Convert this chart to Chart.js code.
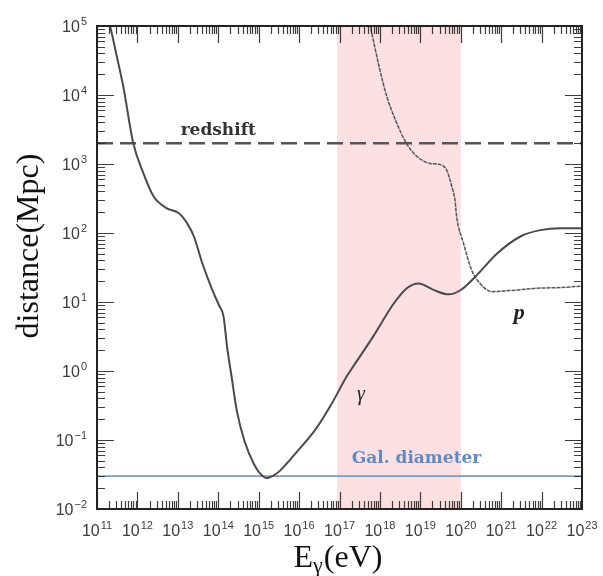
<!DOCTYPE html>
<html><head><meta charset="utf-8">
<script src="https://cdn.jsdelivr.net/npm/chart.js@4/dist/chart.umd.min.js"></script>
<style>html,body{margin:0;padding:0;background:#fff;} canvas{display:block;}</style>
</head><body>
<canvas id="c" width="603" height="576" style="width:603px;height:576px"></canvas>
<script>
// ---- data ----
const xTickValues = [1e11,1e12,1e13,1e14,1e15,1e16,1e17,1e18,1e19,1e20,1e21,1e22,1e23];
const yTickValues = [1e-2,1e-1,1e0,1e1,1e2,1e3,1e4,1e5];

const gammaEnergy = [1.9e11,2.1e11,3.1e11,4.5e11,7.9e11,1.4e12,2.5e12,5.2e12,1.05e13,1.7e13,2.5e13,4.0e13,7.1e13,1.05e14,1.35e14,1.66e14,2.1e14,2.9e14,4.5e14,7.9e14,1.12e15,1.6e15,2.2e15,3.4e15,8.9e15,2.5e16,6.3e16,1.5e17,2.2e17,6.9e17,2.2e18,4.7e18,9.1e18,2.1e19,5.0e19,9.8e19,2.5e20,7.8e20,3.0e21,9.3e21,2.9e22,1e23];
const gammaDistance = [1.2e5,1e5,3.6e4,1.3e4,2.0e3,740,340,230,195,138,89,37,15,8.9,6.2,2.2,0.89,0.26,0.095,0.043,0.032,0.028,0.030,0.036,0.068,0.14,0.33,0.83,1.17,3.2,9.5,16,18.6,15,12.9,14.8,24.5,50,89,110,117,117];

const protonEnergy = [5.25e17,5.75e17,1e18,1.48e18,2.4e18,4.5e18,8.1e18,1.74e19,3.1e19,4.5e19,6.0e19,7.2e19,7.9e19,1.17e20,1.86e20,3.0e20,5.9e20,1.38e21,7.6e21,2.9e22,1e23];
const protonDistance = [1.26e5,1e5,2.3e4,9.5e3,4.4e3,2.0e3,1.3e3,1.02e3,980,810,470,300,174,71,29,18.6,14.1,14.5,15.8,16.2,17];

const redshiftDistance = 2000;
const galDiameterDistance = 0.03;
const bandEnergy = [8.7e16, 1e20];
const xRange = [1e11, 1e23];
const yRange = [1e-2, 1e5];

const annotationTexts = ['redshift', 'Gal. diameter', 'γ', 'p'];
const annotationAnchors = [[1.0e14, redshiftDistance], [2.0e17, galDiameterDistance], [3.4e17, 0.45], [2.8e21, 6.9]];

// ---- helpers ----
function expOf(v){ return String(Math.round(Math.log10(v))).replace('-', '−'); }
function pts(xs, ys){ return xs.map((x,i) => ({x:x, y:ys[i]})); }

const BASE_FONT = '16px "Liberation Sans"';
const EXP_FONT = '11px "Liberation Sans"';

function drawPow(ctx, v, anchorX, baseY, align){
  ctx.font = BASE_FONT;
  const w1 = ctx.measureText('10').width;
  const e = expOf(v);
  ctx.font = EXP_FONT;
  const w2 = ctx.measureText(e).width;
  const total = w1 + 1 + w2;
  let sx = align === 'right' ? anchorX - total : anchorX - total / 2;
  ctx.textAlign = 'left';
  ctx.textBaseline = 'alphabetic';
  ctx.font = BASE_FONT;
  ctx.fillText('10', sx, baseY);
  ctx.font = EXP_FONT;
  ctx.fillText(e, sx + w1 + 1, baseY - 7);
}

const bandPlugin = {
  id:'band',
  beforeDatasetsDraw(chart){
    const {ctx, chartArea:a, scales:{x}} = chart;
    const x0 = x.getPixelForValue(bandEnergy[0]);
    const x1 = x.getPixelForValue(bandEnergy[1]);
    ctx.save();
    ctx.fillStyle = '#fde0e2';
    ctx.fillRect(x0, a.top, x1 - x0, a.bottom - a.top);
    ctx.restore();
  }
};

const framePlugin = {
  id:'frame',
  afterDatasetsDraw(chart){
    const {ctx, chartArea:a, scales:{x,y}} = chart;
    ctx.save();
    ctx.strokeStyle = 'rgba(40,40,40,0.9)';
    ctx.lineWidth = 1.2;
    ctx.beginPath();
    for (let i = 0; i < xTickValues.length - 1; i++){
      for (let m = 1; m < 10; m++){
        const px = Math.round(x.getPixelForValue(m * xTickValues[i])) + 0.5;
        const L = m === 1 ? 17 : 8;
        ctx.moveTo(px, a.bottom); ctx.lineTo(px, a.bottom - L);
        ctx.moveTo(px, a.top); ctx.lineTo(px, a.top + L);
      }
    }
    for (let i = 0; i < yTickValues.length - 1; i++){
      for (let m = 1; m < 10; m++){
        const py = Math.round(y.getPixelForValue(m * yTickValues[i])) + 0.5;
        const L = m === 1 ? 17 : 8;
        ctx.moveTo(a.left, py); ctx.lineTo(a.left + L, py);
        ctx.moveTo(a.right, py); ctx.lineTo(a.right - L, py);
      }
    }
    ctx.stroke();
    ctx.lineWidth = 2;
    ctx.strokeStyle = '#222';
    ctx.strokeRect(a.left, a.top, a.right - a.left, a.bottom - a.top);

    // tick labels
    ctx.fillStyle = '#3c3c3c';
    xTickValues.forEach(v => drawPow(ctx, v, x.getPixelForValue(v), a.bottom + 27, 'center'));
    yTickValues.forEach(v => drawPow(ctx, v, a.left - 10, y.getPixelForValue(v) + 6, 'right'));

    // annotations
    const ax = i => x.getPixelForValue(annotationAnchors[i][0]);
    const ay = i => y.getPixelForValue(annotationAnchors[i][1]);
    ctx.textBaseline = 'alphabetic';
    ctx.textAlign = 'center';
    ctx.fillStyle = '#333';
    ctx.font = 'bold 17px "DejaVu Serif"';
    ctx.fillText(annotationTexts[0], ax(0), ay(0) - 8);
    ctx.textAlign = 'left';
    ctx.fillStyle = '#5f8bc4';
    ctx.font = 'bold 17px "DejaVu Serif"';
    ctx.fillText(annotationTexts[1], ax(1), ay(1) - 13);
    ctx.fillStyle = '#222';
    ctx.textAlign = 'center';
    ctx.textBaseline = 'middle';
    ctx.font = 'italic 20px "Liberation Serif"';
    ctx.fillText(annotationTexts[2], ax(2), ay(2));
    ctx.font = 'bold italic 22px "Liberation Serif"';
    ctx.fillText(annotationTexts[3], ax(3), ay(3));

    // axis titles
    ctx.fillStyle = '#111';
    ctx.font = '32px "Liberation Serif"';
    ctx.save();
    ctx.translate(30, 246);
    ctx.rotate(-Math.PI/2);
    ctx.textAlign = 'center';
    ctx.textBaseline = 'middle';
    ctx.fillText('distance(Mpc)', 0, 0);
    ctx.restore();

    ctx.textAlign = 'left';
    ctx.textBaseline = 'alphabetic';
    const base = 567;
    ctx.font = '32px "Liberation Serif"';
    const wE = ctx.measureText('E').width;
    ctx.font = '22px "Liberation Serif"';
    const wG = ctx.measureText('γ').width;
    ctx.font = '32px "Liberation Serif"';
    const wR = ctx.measureText('(eV)').width;
    let sx = 338 - (wE + wG + 1 + wR) / 2;
    ctx.fillText('E', sx, base);
    ctx.font = '22px "Liberation Serif"';
    ctx.fillText('γ', sx + wE, base + 5);
    ctx.font = '32px "Liberation Serif"';
    ctx.fillText('(eV)', sx + wE + wG + 1, base);
    ctx.restore();
  }
};

new Chart(document.getElementById('c'), {
  type: 'line',
  data: {
    datasets: [
      { label:'γ', data: pts(gammaEnergy, gammaDistance), borderColor:'#4a4a4a', borderWidth:2, pointRadius:0, cubicInterpolationMode:'monotone', fill:false },
      { label:'p', data: pts(protonEnergy, protonDistance), borderColor:'#555', borderWidth:1.5, borderDash:[4,1], pointRadius:0, cubicInterpolationMode:'monotone', fill:false },
      { label:'redshift', data: pts(xRange, [redshiftDistance, redshiftDistance]), borderColor:'#555', borderWidth:2.5, borderDash:[16,7], pointRadius:0, fill:false },
      { label:'Gal. diameter', data: pts(xRange, [galDiameterDistance, galDiameterDistance]), borderColor:'#7a9cc8', borderWidth:1.8, pointRadius:0, fill:false }
    ]
  },
  options: {
    responsive:false,
    animation:false,
    events:[],
    layout:{ padding:{ top:26, right:21, left:0, bottom:0 } },
    plugins:{ legend:{display:false}, tooltip:{enabled:false} },
    scales:{
      x:{
        type:'logarithmic', min:xRange[0], max:xRange[1],
        grid:{ display:false, drawTicks:false },
        border:{ display:false },
        afterBuildTicks(s){ s.ticks = xTickValues.map(v => ({value:v})); },
        afterFit(s){ s.height = 67; },
        ticks:{ display:false }
      },
      y:{
        type:'logarithmic', min:yRange[0], max:yRange[1],
        grid:{ display:false, drawTicks:false },
        border:{ display:false },
        afterBuildTicks(s){ s.ticks = yTickValues.map(v => ({value:v})); },
        afterFit(s){ s.width = 97; },
        ticks:{ display:false }
      }
    }
  },
  plugins:[bandPlugin, framePlugin]
});
</script>
</body></html>
